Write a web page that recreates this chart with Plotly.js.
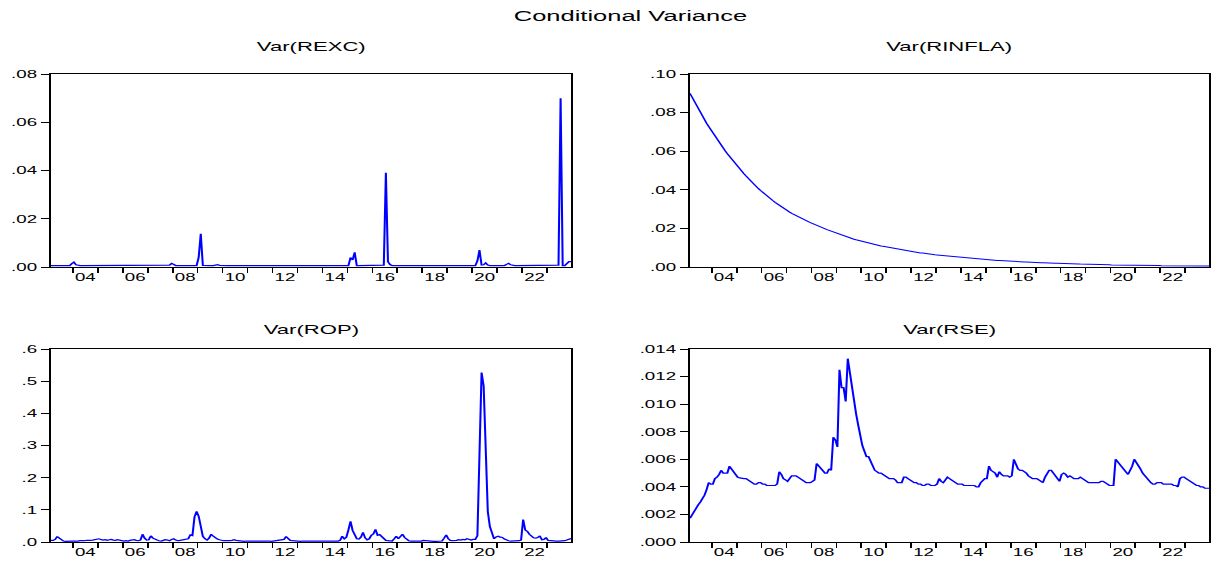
<!DOCTYPE html>
<html><head><meta charset="utf-8">
<script src="https://cdn.plot.ly/plotly-3.0.1.min.js"></script>
<style>
html,body{margin:0;padding:0;overflow:hidden;background:#fff;width:1211px;height:563px}
#wrap{width:712px;height:563px;transform:scaleX(1.70084);transform-origin:0 0}
</style></head><body><div id="wrap"><div id="chart"></div></div>
<script>
// Monthly observations 2003M02 .. 2023M12
const startYear = 2003, startMonth = 2, nObs = 251;

const varREXC = [
  .0006,.0006,.0006,.0006,.0006,.0006,.0006,.0006,.0006,.0006,.0014,
  .0020,.0009,.0006,.0006,.0006,.0006,.0006,.0006,.0006,.0006,.0006,.0006,
  .0009,.0006,.0006,.0006,.0006,.0006,.0006,.0006,.0006,.0008,.0006,.0006,
  .0006,.0006,.0008,.0006,.0006,.0006,.0006,.0006,.0006,.0006,.0006,.0006,
  .0006,.0006,.0006,.0006,.0006,.0006,.0006,.0006,.0006,.0006,.0008,.0015,
  .0008,.0006,.0006,.0006,.0006,.0006,.0006,.0006,.0006,.0006,.0006,.0006,
  .0040,.0138,.0007,.0006,.0006,.0006,.0006,.0006,.0008,.0010,.0007,.0006,
  .0006,.0006,.0006,.0006,.0006,.0006,.0006,.0006,.0006,.0006,.0006,.0006,
  .0006,.0006,.0006,.0006,.0006,.0006,.0009,.0007,.0006,.0006,.0006,.0006,
  .0006,.0006,.0006,.0006,.0006,.0006,.0006,.0006,.0006,.0006,.0006,.0006,
  .0006,.0006,.0006,.0006,.0006,.0006,.0006,.0006,.0006,.0006,.0006,.0006,
  .0006,.0006,.0006,.0006,.0006,.0006,.0006,.0006,.0006,.0006,.0006,.0006,
  .0006,.0039,.0029,.0061,.0006,.0006,.0006,.0006,.0006,.0006,.0006,.0006,
  .0006,.0006,.0006,.0006,.0006,.0008,.0391,.0022,.0010,.0006,.0006,.0006,
  .0006,.0006,.0006,.0006,.0006,.0006,.0006,.0006,.0006,.0006,.0006,.0006,
  .0006,.0006,.0006,.0006,.0006,.0007,.0006,.0006,.0006,.0006,.0006,.0006,
  .0006,.0006,.0006,.0006,.0006,.0006,.0006,.0006,.0006,.0006,.0006,.0006,
  .0006,.0006,.0025,.0070,.0008,.0009,.0017,.0008,.0006,.0006,.0006,.0006,
  .0006,.0006,.0006,.0006,.0011,.0015,.0009,.0006,.0006,.0006,.0006,.0006,
  .0006,.0006,.0006,.0006,.0006,.0006,.0006,.0007,.0009,.0007,.0006,.0006,
  .0006,.0006,.0006,.0006,.0006,.0008,.0699,.0006,.0006,.0014,.0022,.0022
];

const varRINFLA = [
  .0900,.0879,.0859,.0839,.0819,.0800,.0781,.0763,.0745,.0728,.0711,
  .0695,.0678,.0662,.0646,.0631,.0616,.0601,.0587,.0573,.0559,.0546,.0533,
  .0520,.0507,.0495,.0483,.0471,.0459,.0448,.0437,.0426,.0416,.0406,.0396,
  .0386,.0377,.0368,.0359,.0351,.0343,.0335,.0327,.0319,.0312,.0304,.0297,
  .0290,.0284,.0278,.0272,.0266,.0261,.0255,.0250,.0245,.0240,.0235,.0230,
  .0225,.0220,.0216,.0211,.0207,.0203,.0199,.0194,.0190,.0186,.0182,.0177,
  .0172,.0168,.0165,.0161,.0158,.0154,.0151,.0148,.0144,.0141,.0138,.0135,
  .0132,.0129,.0127,.0124,.0121,.0119,.0116,.0114,.0112,.0109,.0107,.0105,
  .0102,.0100,.0098,.0096,.0094,.0092,.0090,.0088,.0086,.0085,.0083,.0081,
  .0080,.0078,.0076,.0075,.0073,.0072,.0070,.0069,.0067,.0066,.0065,.0063,
  .0062,.0061,.0059,.0058,.0057,.0056,.0055,.0054,.0053,.0051,.0050,.0049,
  .0048,.0047,.0046,.0046,.0045,.0044,.0043,.0042,.0041,.0040,.0040,.0039,
  .0038,.0037,.0037,.0036,.0035,.0034,.0034,.0033,.0032,.0032,.0031,.0030,
  .0029,.0029,.0028,.0028,.0027,.0027,.0026,.0026,.0025,.0025,.0024,.0024,
  .0023,.0023,.0022,.0022,.0021,.0021,.0021,.0020,.0020,.0019,.0019,.0019,
  .0018,.0018,.0018,.0017,.0017,.0017,.0016,.0016,.0016,.0015,.0015,.0015,
  .0014,.0014,.0014,.0014,.0013,.0013,.0013,.0013,.0012,.0012,.0012,.0012,
  .0011,.0011,.0011,.0011,.0011,.0010,.0010,.0010,.0010,.0010,.0010,.0009,
  .0009,.0009,.0009,.0009,.0009,.0009,.0008,.0008,.0008,.0008,.0008,.0008,
  .0007,.0007,.0007,.0007,.0007,.0007,.0007,.0007,.0007,.0006,.0006,.0006,
  .0006,.0006,.0006,.0006,.0006,.0006,.0006,.0006,.0005,.0005,.0005,.0005
];

const varROP = [
  .005,.005,.008,.017,.012,.006,.003,.002,.003,.004,.003,
  .003,.002,.003,.004,.003,.004,.005,.004,.005,.006,.007,.009,
  .010,.008,.006,.007,.005,.007,.008,.006,.005,.007,.005,.004,
  .003,.004,.003,.005,.006,.007,.005,.004,.006,.024,.012,.006,
  .007,.019,.012,.008,.006,.004,.003,.005,.007,.006,.004,.008,
  .010,.006,.004,.005,.006,.007,.008,.010,.022,.020,.078,.095,
  .080,.040,.018,.010,.006,.012,.024,.018,.012,.009,.007,.005,
  .004,.004,.003,.004,.005,.007,.005,.004,.003,.003,.002,.003,
  .003,.004,.005,.004,.003,.003,.004,.005,.004,.003,.003,.002,
  .003,.004,.003,.004,.005,.008,.017,.009,.005,.004,.003,.002,
  .002,.002,.003,.003,.004,.003,.002,.002,.002,.002,.002,.002,
  .002,.002,.002,.002,.002,.002,.002,.003,.005,.018,.010,.015,
  .038,.064,.036,.018,.010,.009,.015,.030,.013,.007,.010,.021,
  .025,.039,.021,.023,.016,.008,.005,.004,.003,.003,.010,.018,
  .010,.016,.024,.014,.007,.004,.003,.003,.003,.003,.002,.003,
  .005,.004,.003,.003,.003,.002,.002,.003,.002,.003,.012,.022,
  .010,.005,.004,.004,.005,.007,.006,.008,.007,.010,.007,.006,
  .008,.008,.020,.270,.527,.485,.230,.095,.048,.022,.010,.016,
  .018,.015,.014,.009,.005,.004,.003,.003,.003,.004,.004,.006,
  .070,.037,.033,.024,.018,.013,.012,.014,.019,.007,.008,.014,
  .005,.004,.003,.003,.003,.003,.003,.003,.004,.006,.008,.011
];

const varRSE = [
  .00172,.0020,.0023,.0025,.0027,.0029,.0031,.0034,.0038,.0043,.0042,
  .0042,.0046,.0047,.0049,.0052,.0050,.0050,.0050,.0055,.0053,.0050,.0048,
  .0047,.00465,.0046,.0046,.0046,.0045,.0044,.0043,.0042,.0042,.0043,.0043,
  .0042,.0042,.0041,.0041,.0041,.0041,.0041,.0042,.0051,.0049,.0046,.0045,
  .0044,.0046,.0048,.0048,.0048,.0047,.0046,.0045,.0044,.0043,.0043,.0043,
  .0044,.0045,.0057,.0055,.0054,.0051,.0050,.0050,.0053,.0052,.0076,.0074,
  .0069,.0125,.0112,.0112,.0102,.0133,.0122,.0110,.0101,.0093,.0085,.0077,
  .0070,.0066,.0062,.0062,.0058,.0055,.0052,.0051,.0050,.0050,.0049,.0048,
  .0047,.0046,.0046,.0046,.0045,.0043,.0043,.0043,.0047,.0047,.0046,.0045,
  .0044,.0043,.0043,.0042,.0042,.0041,.0041,.0042,.0042,.0041,.0041,.0041,
  .0042,.0046,.0044,.0043,.0045,.0047,.0046,.0045,.0044,.0043,.0042,.0042,
  .0042,.0041,.0041,.0041,.0041,.0041,.0041,.0040,.0040,.0043,.0045,.0046,
  .0046,.0055,.0052,.0051,.0050,.0047,.0051,.0049,.0048,.0048,.0048,.0047,
  .0048,.0060,.0055,.0053,.0052,.0052,.0051,.0050,.0048,.0047,.0046,.0046,
  .0046,.0045,.0044,.0043,.0047,.0049,.0052,.0052,.0050,.0048,.0046,.0044,
  .0049,.0050,.0049,.0047,.0048,.0047,.0046,.0046,.0046,.0047,.0046,.0045,
  .0044,.0043,.0043,.0043,.0043,.0043,.0043,.0044,.0044,.0043,.0042,.0041,
  .0041,.0041,.0060,.0058,.0057,.0054,.0052,.0050,.0049,.0052,.0055,.0060,
  .0058,.0056,.0053,.0050,.0048,.0046,.0044,.0043,.0042,.0042,.0043,.0043,
  .0043,.0042,.0042,.0042,.0042,.0042,.0041,.0041,.0040,.0046,.0047,.0047,
  .0046,.0045,.0044,.0043,.0042,.0041,.0041,.0040,.0040,.0039,.0039,.0039
];

// year boundaries get tick marks; labels sit in the middle of even years
const yearTicks = [2004,2005,2006,2007,2008,2009,2010,2011,2012,2013,2014,2015,2016,2017,2018,2019,2020,2021,2022,2023];
const labelYears = [2004,2006,2008,2010,2012,2014,2016,2018,2020,2022];
const yearLabels = ["04","06","08","10","12","14","16","18","20","22"];

const rexcTicks = [0,.02,.04,.06,.08], rexcLabels = [".00",".02",".04",".06",".08"];
const rinflaTicks = [0,.02,.04,.06,.08,.10], rinflaLabels = [".00",".02",".04",".06",".08",".10"];
const ropTicks = [0,.1,.2,.3,.4,.5,.6], ropLabels = [".0",".1",".2",".3",".4",".5",".6"];
const rseTicks = [0,.002,.004,.006,.008,.010,.012,.014], rseLabels = [".000",".002",".004",".006",".008",".010",".012",".014"];

const panelTitles = ["Var(REXC)","Var(RINFLA)","Var(ROP)","Var(RSE)"];
const mainTitle = "Conditional Variance";

// time axis (decimal years, mid-month)
const t = [];
for (let i = 0; i < nObs; i++) t.push(startYear + (startMonth - 1 + i + 0.5) / 12);
const labelPos = labelYears.map(y => y + 0.5);

const W = 1211, H = 563;
const fx = px => px / W, fy = py => 1 - py / H;
const domL = [fx(51), fx(571)], domR = [fx(690), fx(1209)];
const domT = [fy(267), fy(74)], domB = [fy(542), fy(349)];

const FONT = "Liberation Sans, Arial, sans-serif";
const tickFont = {family: FONT, size: 11, color: "#000"};

function xax(dom, anchor) {
  return {domain: dom, anchor: anchor, range: [t[0], t[nObs-1]], tickmode: "array",
    tickvals: labelPos, ticktext: yearLabels, ticks: "", ticklen: 0,
    minor: {tickmode: "array", tickvals: yearTicks, ticks: "outside", ticklen: 5, tickwidth: 1, tickcolor: "#000", showgrid: false},
    showline: true, linecolor: "#000", linewidth: 1,
    mirror: true, showgrid: false, zeroline: false, automargin: false, tickfont: tickFont, fixedrange: true};
}
function yax(dom, anchor, max, vals, txt) {
  return {domain: dom, anchor: anchor, range: [0, max], tickmode: "array", tickvals: vals, ticktext: txt,
    ticks: "outside", ticklen: 5, tickwidth: 1, tickcolor: "#000", showline: true, linecolor: "#000",
    linewidth: 1, mirror: true, showgrid: false, zeroline: false, automargin: false, tickfont: tickFont, fixedrange: true};
}
function tr(y, xa, ya, w) {
  return {x: t, y: y, xaxis: xa, yaxis: ya, type: "scatter", mode: "lines",
    line: {color: "#0000ff", width: w}, hoverinfo: "skip", showlegend: false};
}

const data = [
  tr(varREXC, "x", "y", 1.2),
  tr(varRINFLA, "x2", "y2", 1.0),
  tr(varROP, "x3", "y3", 1.2),
  tr(varRSE, "x4", "y4", 1.2)
];

const titleFont = {family: FONT, size: 13, color: "#000"};
const ann = (txt, x, y, f) => ({text: txt, xref: "paper", yref: "paper", x: x, y: y,
  xanchor: "center", yanchor: "middle", showarrow: false, font: f});

const layout = {
  width: 712, height: 563, margin: {l: 0, r: 0, t: 0, b: 0},
  paper_bgcolor: "#fff", plot_bgcolor: "#fff", showlegend: false,
  xaxis: xax(domL, "y"), yaxis: yax(domT, "x", 0.08, rexcTicks, rexcLabels),
  xaxis2: xax(domR, "y2"), yaxis2: yax(domT, "x2", 0.10, rinflaTicks, rinflaLabels),
  xaxis3: xax(domL, "y3"), yaxis3: yax(domB, "x3", 0.6, ropTicks, ropLabels),
  xaxis4: xax(domR, "y4"), yaxis4: yax(domB, "x4", 0.014, rseTicks, rseLabels),
  annotations: [
    ann(mainTitle, (domL[0] + domR[1]) / 2, fy(15), {family: FONT, size: 15, color: "#000"}),
    ann(panelTitles[0], (domL[0] + domL[1]) / 2, fy(46), titleFont),
    ann(panelTitles[1], (domR[0] + domR[1]) / 2, fy(46), titleFont),
    ann(panelTitles[2], (domL[0] + domL[1]) / 2, fy(329), titleFont),
    ann(panelTitles[3], (domR[0] + domR[1]) / 2, fy(329), titleFont)
  ]
};

Plotly.newPlot("chart", data, layout, {displayModeBar: false, staticPlot: true});
</script></body></html>
